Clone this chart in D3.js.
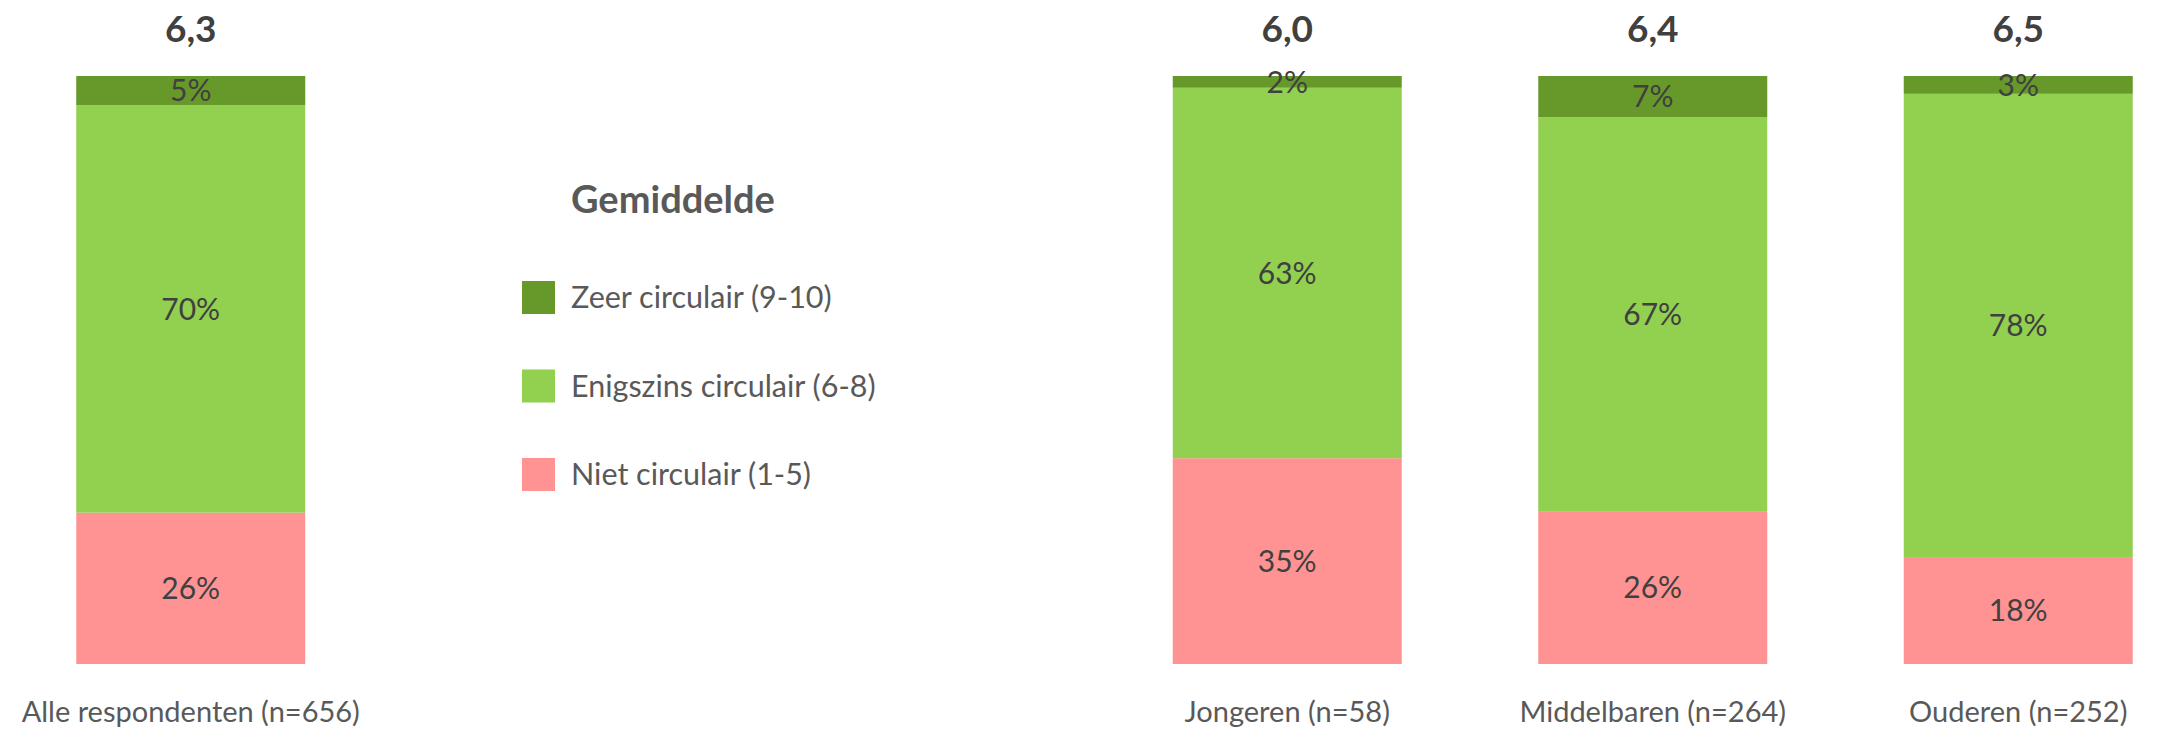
<!DOCTYPE html>
<html>
<head>
<meta charset="utf-8">
<script src="https://cdn.jsdelivr.net/npm/d3@7"></script>
<style>
  body { margin: 0; background: #fff; }
  svg text { font-family: Lato, "Open Sans", sans-serif; }
</style>
</head>
<body>
<svg id="chart" width="2159" height="731"></svg>
<script>
// groups, in slot order (two empty slots between "Alle" and the age groups)
var categories = ["Alle respondenten (n=656)", "", " ", "Jongeren (n=58)", "Middelbaren (n=264)", "Ouderen (n=252)"];
var groups = ["Alle respondenten (n=656)", "Jongeren (n=58)", "Middelbaren (n=264)", "Ouderen (n=252)"];
var averages = ["6,3", "6,0", "6,4", "6,5"];
var niet = [26, 35, 26, 18];
var enigszins = [70, 63, 67, 78];
var zeer = [5, 2, 7, 3];

var seriesKeys = ["niet", "enigszins", "zeer"];
var seriesLabels = { zeer: "Zeer circulair (9-10)", enigszins: "Enigszins circulair (6-8)", niet: "Niet circulair (1-5)" };
var colors = { zeer: "#66992A", enigszins: "#92D050", niet: "#FF9393" };

var rows = groups.map(function (g, i) {
  return { group: g, avg: averages[i], niet: niet[i], enigszins: enigszins[i], zeer: zeer[i] };
});

var svg = d3.select("#chart");

var x = d3.scaleBand()
  .domain(categories)
  .range([8, 8 + 6 * 365.5])
  .paddingInner(136.5 / 365.5)
  .paddingOuter(136.5 / 365.5 / 2);

var y = d3.scaleLinear().domain([0, 1]).range([664, 76]);

var stack = d3.stack().keys(seriesKeys).offset(d3.stackOffsetExpand);
var stacked = stack(rows);

var layer = svg.append("g").selectAll("g")
  .data(stacked)
  .enter().append("g")
  .attr("fill", function (d) { return colors[d.key]; });

layer.selectAll("rect")
  .data(function (d) { return d; })
  .enter().append("rect")
  .attr("x", function (d) { return x(d.data.group); })
  .attr("width", x.bandwidth())
  .attr("y", function (d) { return y(d[1]); })
  .attr("height", function (d) { return y(d[0]) - y(d[1]); });

// percentage labels centred in each segment
stacked.forEach(function (s) {
  svg.append("g").selectAll("text")
    .data(s)
    .enter().append("text")
    .attr("x", function (d) { return x(d.data.group) + x.bandwidth() / 2; })
    .attr("y", function (d) { return y((d[0] + d[1]) / 2); })
    .attr("dy", "0.36em")
    .attr("text-anchor", "middle")
    .style("font-size", "30px")
    .style("fill", "#404040")
    .text(function (d) { return d.data[s.key] + "%"; });
});

// averages above bars
svg.append("g").selectAll("text")
  .data(rows)
  .enter().append("text")
  .attr("x", function (d) { return x(d.group) + x.bandwidth() / 2; })
  .attr("y", 42)
  .attr("text-anchor", "middle")
  .style("font-size", "37px")
  .style("font-weight", "bold")
  .style("fill", "#404040")
  .text(function (d) { return d.avg; });

// category labels
svg.append("g").selectAll("text")
  .data(rows)
  .enter().append("text")
  .attr("x", function (d) { return x(d.group) + x.bandwidth() / 2; })
  .attr("y", 722)
  .attr("text-anchor", "middle")
  .style("font-size", "29px")
  .style("fill", "#595959")
  .text(function (d) { return d.group; });

// legend
var legend = svg.append("g").attr("transform", "translate(522,0)");
legend.append("text")
  .attr("x", 49)
  .attr("y", 213)
  .style("font-size", "38px")
  .style("font-weight", "bold")
  .style("fill", "#595959")
  .text("Gemiddelde");

var legendKeys = ["zeer", "enigszins", "niet"];
var item = legend.selectAll(".item")
  .data(legendKeys)
  .enter().append("g")
  .attr("class", "item")
  .attr("transform", function (d, i) { return "translate(0," + (281 + i * 88.5) + ")"; });

item.append("rect")
  .attr("width", 33)
  .attr("height", 33)
  .attr("fill", function (d) { return colors[d]; });

item.append("text")
  .attr("x", 49)
  .attr("y", 16.5)
  .attr("dy", "0.36em")
  .style("font-size", "30.5px")
  .style("fill", "#595959")
  .text(function (d) { return seriesLabels[d]; });
</script>
</body>
</html>
